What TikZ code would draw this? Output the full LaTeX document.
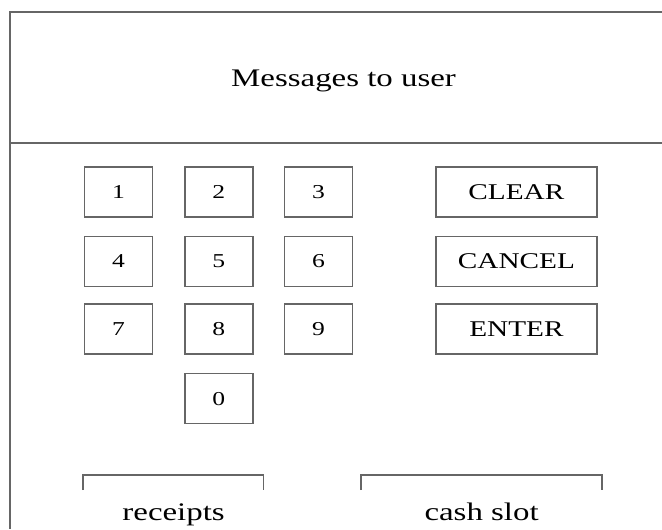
\documentclass[tikz,border=0pt]{standalone}
\usepackage{fontspec}
\setmainfont{Liberation Serif}[FakeStretch=1.3]
\usepackage{tikz}

\begin{document}
\begin{tikzpicture}[
    frame/.style={draw=black!60,line width=1.3pt},
    keybox/.style={rectangle,draw=black!60,line width=1pt,minimum width=1.7cm,minimum height=1.25cm,inner sep=0pt,font=\fontsize{14pt}{16pt}\selectfont},
    cmdbox/.style={keybox,minimum width=4.02cm,font=\fontsize{16pt}{18pt}\selectfont},
    caption/.style={anchor=base,inner sep=0pt,font=\fontsize{18pt}{20pt}\selectfont}]

\useasboundingbox (0,0) rectangle (16.55,13.225);

% screen
\draw[frame] (16.55,12.925) -- (0.26,12.925) -- (0.26,0);
\draw[frame] (0.26,9.65) -- (16.55,9.65);
\node[caption] (msg) at (8.59,11.05) {Messages to user};

% digits
\node[keybox] (k1) at (2.96,8.42) {1};
\node[keybox] (k2) at (5.47,8.42) {2};
\node[keybox] (k3) at (7.96,8.42) {3};
\node[keybox] (k4) at (2.96,6.69) {4};
\node[keybox] (k5) at (5.47,6.69) {5};
\node[keybox] (k6) at (7.96,6.69) {6};
\node[keybox] (k7) at (2.96,5.0) {7};
\node[keybox] (k8) at (5.47,5.0) {8};
\node[keybox] (k9) at (7.96,5.0) {9};
\node[keybox] (k0) at (5.47,3.26) {0};

% commands
\node[cmdbox] (clear) at (12.91,8.42) {CLEAR};
\node[cmdbox] (cancel) at (12.91,6.69) {CANCEL};
\node[cmdbox] (enter) at (12.91,5.0) {ENTER};

% slots
\draw[keybox] (2.07,0.975) |- (6.58,1.35) -- (6.58,0.975);
\draw[keybox] (9.02,0.975) |- (15.05,1.35) -- (15.05,0.975);
\node[caption] (receipts) at (4.34,0.225) {receipts};
\node[caption] (cashslot) at (12.04,0.225) {cash slot};
\end{tikzpicture}
\end{document}
